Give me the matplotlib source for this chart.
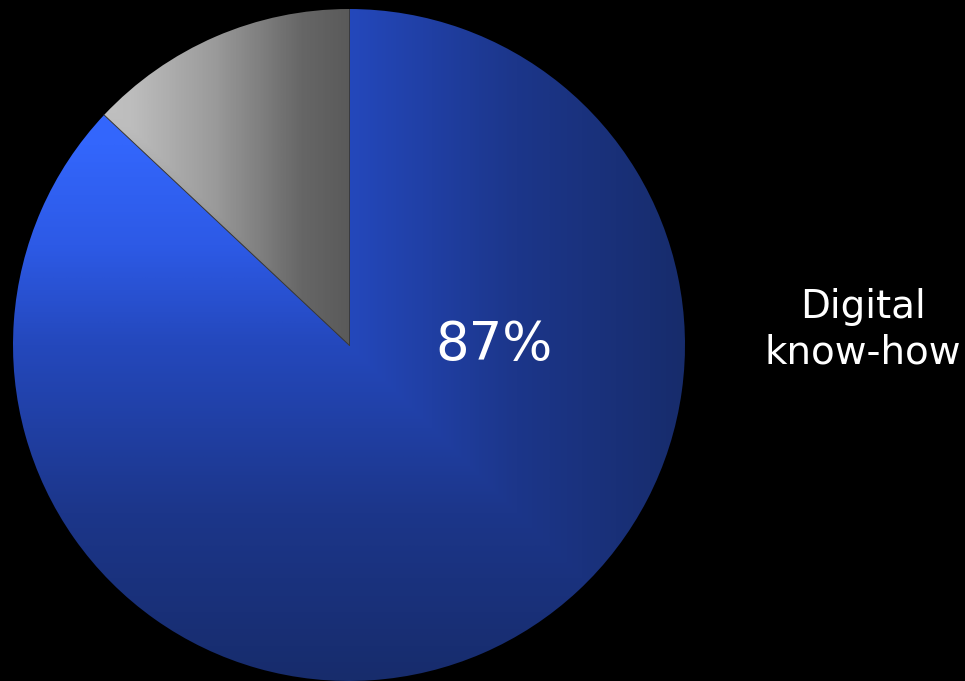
import matplotlib
matplotlib.use("Agg")
import matplotlib.pyplot as plt
import numpy as np
from matplotlib.colors import LinearSegmentedColormap

# data
labels = ["Digital know-how", "Other"]
shares = [87, 13]
pct_text = "87%"
label_text = "Digital\nknow-how"

plt.rcParams['font.family'] = ['DejaVu Sans']

fig = plt.figure(figsize=(9.65, 6.81), dpi=100, facecolor='black')
ax = fig.add_axes([13 / 965, 0 / 681, 672 / 965, 672 / 681])
ax.set_facecolor('black')

wedges, _ = ax.pie(shares, startangle=90, counterclock=False, radius=1,
                   wedgeprops=dict(linewidth=0))
ax.set_xlim(-1, 1)
ax.set_ylim(-1, 1)
ax.set_aspect('equal')
ax.axis('off')

# gradient value: max of (x, -y) -> light top-left, dark to the right / bottom
blue_cmap = LinearSegmentedColormap.from_list(
    "blue", [(0, "#3569ff"), (0.2, "#3366fc"), (0.35, "#2d5ae6"),
             (0.5, "#2448bc"), (0.75, "#1c368a"), (1, "#172c6c")])
grey_cmap = LinearSegmentedColormap.from_list(
    "grey", [(0, "#cccccc"), (0.175, "#bdbdbd"), (0.3, "#9a9a9a"),
             (0.43, "#666666"), (0.5, "#5a5a5a"), (1, "#555555")])

n = 500
xx, yy = np.meshgrid(np.linspace(-1, 1, n), np.linspace(1, -1, n))
t = (np.maximum(xx, -yy) + 1) / 2

for w, cmap in [(wedges[0], blue_cmap), (wedges[1], grey_cmap)]:
    w.set_facecolor('none')
    im = ax.imshow(t, cmap=cmap, vmin=0, vmax=1, extent=(-1, 1, -1, 1),
                   interpolation='bilinear', zorder=w.get_zorder() - 0.1)
    im.set_clip_path(w)

# thin separators between the slices
for w in wedges:
    a = np.deg2rad(w.theta1)
    ax.plot([0, np.cos(a)], [0, np.sin(a)], color='#3a3a3a', lw=0.7, zorder=5)

ax.text((494 - 349) / 336, 0, pct_text, color='white', fontsize=38,
        ha='center', va='center')
fig.text(863 / 965, 1 - 330 / 681, label_text, color='white', fontsize=28,
         ha='center', va='center', linespacing=1.25)

fig.savefig("out.png", dpi=100, facecolor='black')
